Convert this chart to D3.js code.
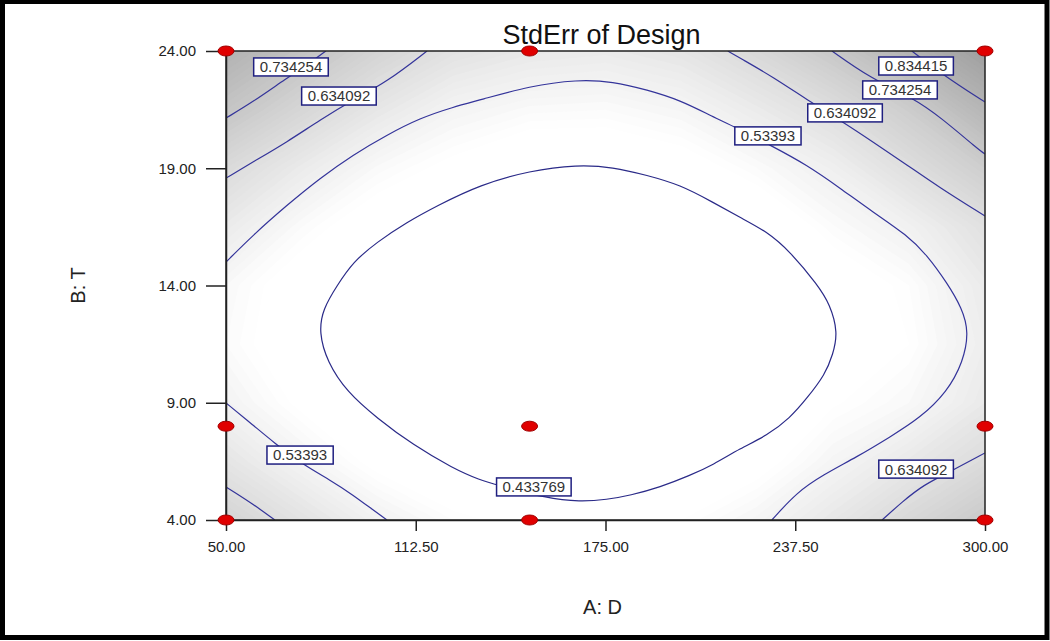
<!DOCTYPE html>
<html lang="en">
<head>
<meta charset="UTF-8">
<title>StdErr of Design</title>
<script src="https://cdnjs.cloudflare.com/ajax/libs/d3/7.8.5/d3.min.js"></script>
<style>
    body { margin: 0; background: #fff; }
    svg { display: block; font-family: "Liberation Sans", Arial, sans-serif; }
    .tick text { font-size: 15px; fill: #222; }
    .tick line, .domain { stroke: #222; stroke-width: 1.5; }
</style>
</head>
<body>
<svg width="1050" height="641"></svg>
<script>
    // axis ticks
    var xTicks = [50, 112.5, 175, 237.5, 300];
    var yTicks = [4, 9, 14, 19, 24];

    // contour levels shown on the plot
    var levels = [0.433769, 0.53393, 0.634092, 0.734254, 0.834415];

    // estimated StdErr on a coarse grid (rows = B, cols = A), used for the grey shading
    var gridA = [50, 75, 100, 125, 150, 175, 200, 225, 250, 275, 300];
    var gridB = [4, 6.5, 9, 11.5, 14, 16.5, 19, 21.5, 24];
    var stdErrGrid = [
        [0.68, 0.61, 0.54, 0.49, 0.465, 0.46, 0.48, 0.525, 0.59, 0.66, 0.73],
        [0.60, 0.53, 0.465, 0.425, 0.41, 0.40, 0.42, 0.46, 0.525, 0.584, 0.645],
        [0.534, 0.47, 0.42, 0.39, 0.375, 0.37, 0.38, 0.41, 0.476, 0.51, 0.58],
        [0.50, 0.445, 0.40, 0.37, 0.36, 0.355, 0.365, 0.39, 0.43, 0.48, 0.56],
        [0.51, 0.45, 0.40, 0.37, 0.36, 0.355, 0.37, 0.40, 0.445, 0.49, 0.575],
        [0.575, 0.50, 0.445, 0.40, 0.38, 0.375, 0.395, 0.43, 0.498, 0.545, 0.62],
        [0.65, 0.574, 0.506, 0.466, 0.43, 0.433, 0.454, 0.50, 0.553, 0.63, 0.71],
        [0.75, 0.669, 0.591, 0.531, 0.505, 0.50, 0.522, 0.575, 0.634, 0.714, 0.82],
        [0.84, 0.76, 0.68, 0.615, 0.585, 0.575, 0.60, 0.66, 0.735, 0.83, 0.93]
    ];

    // design points [A, B]
    var designPoints = [[50, 24], [150, 24], [300, 24], [50, 8], [150, 8], [300, 8], [50, 4], [150, 4], [300, 4]];

    // contour lines, [A, B]
    var line0433769 = [[80.6, 12.0], [81.9, 13.0], [86.6, 14.0], [91.8, 15.0], [99.7, 15.85], [109.6, 16.7], [119.5, 17.4],
        [133.7, 18.3], [150.1, 18.9], [165.6, 19.15], [177.5, 19.05], [188.7, 18.7], [199.5, 18.3], [210.4, 17.55],
        [219.3, 16.9], [228.2, 16.3], [235.8, 15.45], [245.0, 14.0], [248.9, 13.2], [251.6, 12.0], [249.9, 11.05],
        [247.3, 10.2], [241.4, 9.2], [235.8, 8.35], [228.2, 7.6], [219.3, 7.05], [210.4, 6.35], [202.8, 5.9],
        [193.0, 5.4], [183.1, 5.05], [175.5, 4.87], [166.6, 4.78], [155.7, 4.92], [139.3, 5.5], [133.7, 5.7],
        [124.8, 6.2], [111.6, 7.2], [99.7, 8.35], [89.9, 9.45], [83.3, 10.75]];
    var line053393Top = [[50, 15.0], [58.9, 16.15], [70.1, 17.43], [81.0, 18.58], [91.8, 19.57], [103.0, 20.42],
        [113.9, 21.14], [124.8, 21.61], [133.7, 21.91], [150.1, 22.51], [165.6, 22.78], [177.5, 22.7], [188.7, 22.34],
        [199.5, 21.91], [210.4, 21.19], [217.7, 20.76], [229.2, 19.99], [241.4, 19.14], [252.2, 18.16], [263.1, 17.13],
        [274.3, 16.15], [280.9, 15.3], [287.5, 14.11], [292.4, 13.04], [294.7, 12.02], [292.8, 10.74], [287.5, 9.46],
        [278.6, 8.35], [268.7, 7.54], [257.8, 6.69], [246.6, 5.92], [238.1, 5.19], [229.8, 4.0]];
    var line053393Low = [[50, 8.99], [58.9, 8.05], [65.5, 7.33], [75.4, 6.35], [84.3, 5.71], [91.8, 5.07], [98.4, 4.43], [103.0, 4.0]];
    var line0634092Low = [[50, 5.41], [57.9, 4.77], [66.1, 4.0]];
    var line0634092Top = [[50, 18.58], [58.9, 19.27], [70.1, 20.12], [81.0, 21.06], [91.8, 21.91], [103.0, 22.68], [116.2, 24.0]];
    var line0734254Top = [[50, 21.14], [58.9, 21.83], [70.1, 22.85], [76.7, 23.4], [82.9, 24.0]];
    var line0634092Right = [[215.3, 24.0], [219.3, 23.7], [230.2, 22.89], [242.4, 21.83], [253.2, 20.97], [263.1, 20.12],
        [274.3, 19.14], [285.2, 18.16], [298.4, 17.09], [300, 16.96]];
    var line0734254Right = [[249.6, 24.0], [262.1, 22.85], [276.3, 22.0], [285.2, 21.19], [298.4, 19.74], [300, 19.61]];
    var line0834415 = [[275.9, 24.0], [286.2, 22.98], [298.4, 21.95], [300, 21.83]];
    var line0634092BR = [[266.1, 4.0], [272.7, 4.77], [279.6, 5.49], [289.5, 6.13], [300, 6.86]];

    var openLines = [line053393Top, line053393Low, line0634092Low, line0634092Top, line0734254Top,
        line0634092Right, line0734254Right, line0834415, line0634092BR];

    // contour labels [level, A, B]
    var contourLabels = [[0.734254, 71.4, 23.32], [0.634092, 87.2, 22.08], [0.834415, 277.3, 23.36],
        [0.734254, 272.0, 22.34], [0.634092, 253.9, 21.36], [0.53393, 228.5, 20.38],
        [0.53393, 74.4, 6.77], [0.433769, 151.4, 5.41], [0.634092, 277.3, 6.17]];

    var svg = d3.select("svg"),
        margin = {top: 51, right: 65, bottom: 121, left: 226},
        width = 1050 - margin.left - margin.right,
        height = 641 - margin.top - margin.bottom,
        g = svg.append("g").attr("transform", "translate(" + margin.left + "," + margin.top + ")");

    var x = d3.scaleLinear().domain([50, 300]).range([0, width]);
    var y = d3.scaleLinear().domain([4, 24]).range([height, 0]);

    svg.append("defs").append("clipPath").attr("id", "plotclip")
        .append("rect").attr("width", width).attr("height", height);

    // plot background + grey shading
    var plot = g.append("g").attr("clip-path", "url(#plotclip)");
    plot.append("rect").attr("width", width).attr("height", height).attr("fill", "#fff");

    var flat = [];
    stdErrGrid.forEach(function(row) { row.forEach(function(v) { flat.push(v); }); });
    var bands = d3.contours()
        .size([gridA.length, gridB.length])
        .thresholds(d3.range(0.40, 0.96, 0.01))(flat);

    var dA = gridA[1] - gridA[0], dB = gridB[1] - gridB[0];
    var gridPath = d3.geoPath(d3.geoTransform({
        point: function(px, py) {
            this.stream.point(x(gridA[0] + (px - 0.5) * dA), y(gridB[0] + (py - 0.5) * dB));
        }
    }));
    var gray = d3.scaleLinear().domain([0.48, 0.93]).range(["#ffffff", "#9e9e9e"]).clamp(true);

    plot.selectAll("path.band")
        .data(bands)
        .enter()
        .append("path")
        .attr("class", "band")
        .attr("d", gridPath)
        .attr("fill", function(d) { return gray(d.value + 0.005); });

    // contour lines (basis curve smooths the hand-read points)
    var lineGen = d3.line()
        .x(function(d) { return x(d[0]); })
        .y(function(d) { return y(d[1]); })
        .curve(d3.curveBasis);

    plot.selectAll("path.cline")
        .data(openLines)
        .enter()
        .append("path")
        .attr("class", "cline")
        .attr("d", lineGen)
        .attr("fill", "none")
        .attr("stroke", "#34349a")
        .attr("stroke-width", 1.2);

    plot.append("path")
        .attr("d", lineGen.curve(d3.curveBasisClosed)(line0433769))
        .attr("fill", "none")
        .attr("stroke", "#2a2a88")
        .attr("stroke-width", 1.2);

    // labels on the contours
    var lab = g.selectAll("g.clabel")
        .data(contourLabels)
        .enter()
        .append("g")
        .attr("class", "clabel")
        .attr("transform", function(d) { return "translate(" + x(d[1]) + "," + y(d[2]) + ")"; });

    lab.append("text")
        .attr("text-anchor", "middle")
        .attr("dy", "0.36em")
        .attr("font-size", 15)
        .attr("fill", "#333")
        .text(function(d) { return String(d[0]); });

    lab.each(function() {
        var t = d3.select(this).select("text");
        var w = t.node().getComputedTextLength() + 12;
        d3.select(this).insert("rect", "text")
            .attr("x", -w / 2).attr("y", -9)
            .attr("width", w).attr("height", 18)
            .attr("fill", "#fff")
            .attr("stroke", "#1f1f80")
            .attr("stroke-width", 1.5);
    });

    // axes
    g.append("g")
        .attr("transform", "translate(0," + height + ")")
        .call(d3.axisBottom(x).tickValues(xTicks).tickFormat(d3.format(".2f"))
            .tickSize(11).tickSizeOuter(0).tickPadding(10));

    g.append("g")
        .call(d3.axisLeft(y).tickValues(yTicks).tickFormat(d3.format(".2f"))
            .tickSize(20).tickSizeOuter(0).tickPadding(10));

    g.append("rect")
        .attr("width", width).attr("height", height)
        .attr("fill", "none")
        .attr("stroke", "#222")
        .attr("stroke-width", 1.5);

    // design points
    g.selectAll("ellipse")
        .data(designPoints)
        .enter()
        .append("ellipse")
        .attr("cx", function(d) { return x(d[0]); })
        .attr("cy", function(d) { return y(d[1]); })
        .attr("rx", 8)
        .attr("ry", 5)
        .attr("fill", "#e00000")
        .attr("stroke", "#a00000")
        .attr("stroke-width", 1);

    // titles
    svg.append("text")
        .attr("x", margin.left + width / 2 - 4)
        .attr("y", 44)
        .attr("text-anchor", "middle")
        .attr("font-size", 27)
        .attr("fill", "#111")
        .text("StdErr of Design");

    svg.append("text")
        .attr("x", margin.left + width / 2 - 3)
        .attr("y", 614)
        .attr("text-anchor", "middle")
        .attr("font-size", 20)
        .attr("fill", "#222")
        .text("A: D");

    svg.append("text")
        .attr("transform", "translate(85," + (margin.top + height / 2) + ") rotate(-90)")
        .attr("text-anchor", "middle")
        .attr("font-size", 20)
        .attr("fill", "#222")
        .text("B: T");

    // outer black frame
    svg.append("rect")
        .attr("x", 2.5).attr("y", 1.5)
        .attr("width", 1050 - 5.5).attr("height", 641 - 5)
        .attr("fill", "none")
        .attr("stroke", "#000")
        .attr("stroke-width", 5);
</script>
</body>
</html>
